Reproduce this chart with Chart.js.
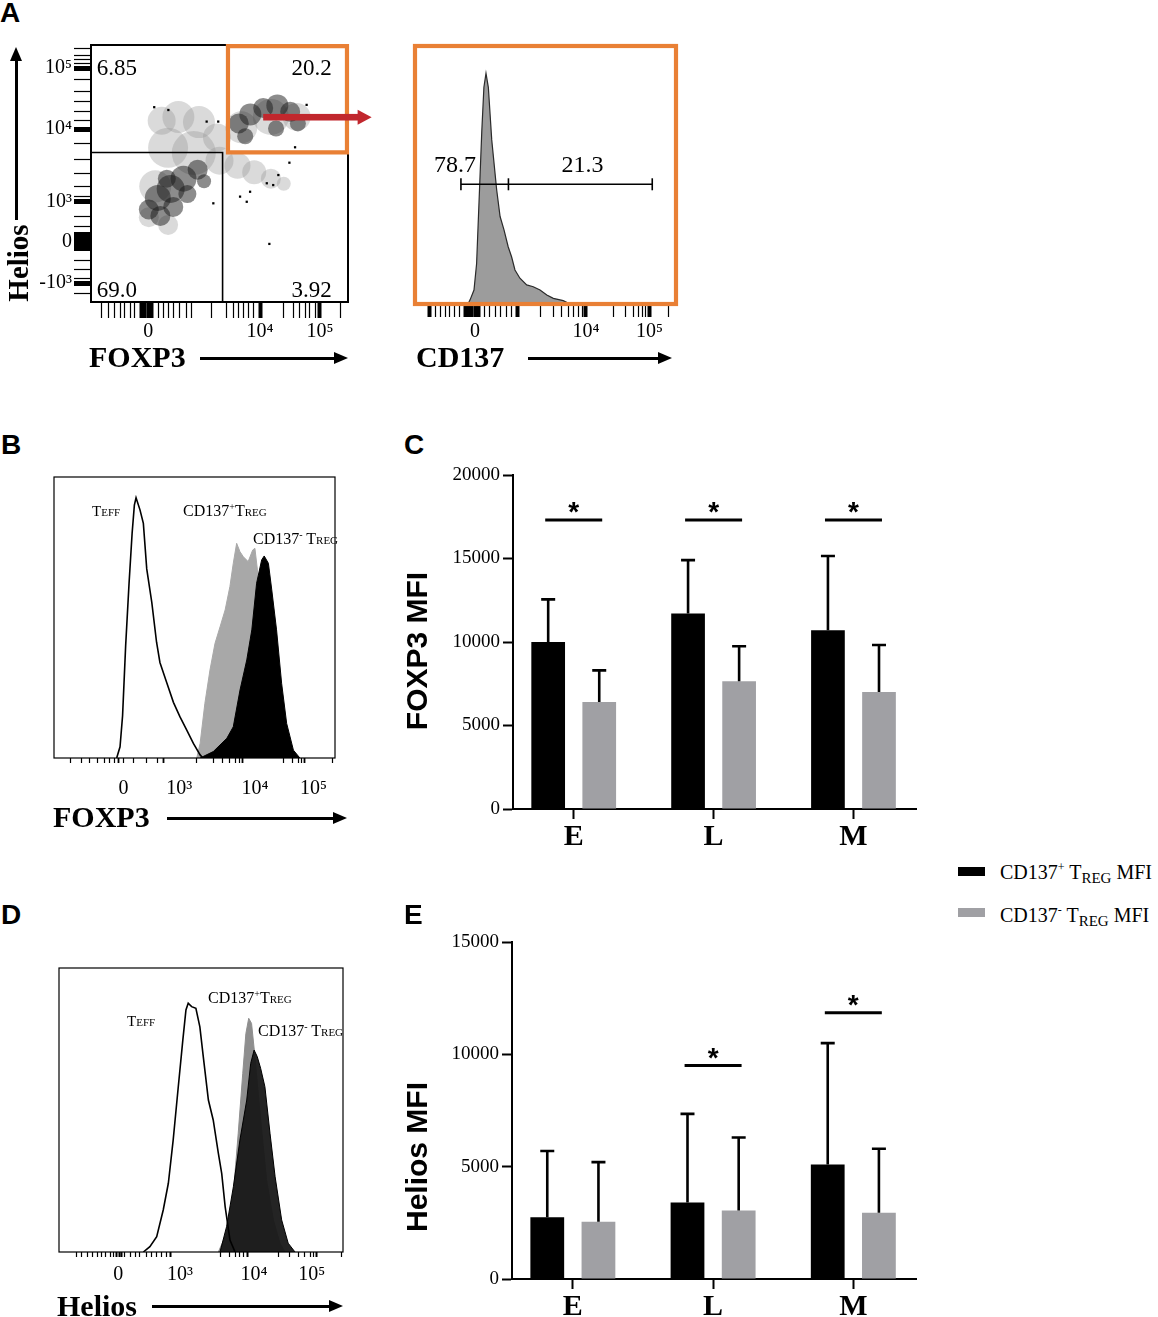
<!DOCTYPE html>
<html lang="en">
<head>
<meta charset="utf-8">
<title>CD137+ Treg: FOXP3 and Helios</title>
<script src="https://cdn.jsdelivr.net/npm/chart.js@4.4.1/dist/chart.umd.min.js"></script>
<style>
  html, body { margin: 0; padding: 0; background: #fff; }
  body { position: relative; width: 1158px; height: 1317px; overflow: hidden;
         font-family: "Liberation Serif", "Times New Roman", serif; color: #000; }
  canvas { position: absolute; }
  .abs { position: absolute; white-space: nowrap; line-height: 1; }
  .letter { font-family: "Liberation Sans", Arial, sans-serif; font-weight: bold; font-size: 28px; }
  .axt { font-weight: bold; font-size: 30px; }
  .rot { transform: translate(-50%, -50%) rotate(-90deg); }
  .mfi { font-family: "Liberation Sans", Arial, sans-serif; font-weight: bold; font-size: 30px; }
  .pop { font-size: 16px; }
  .sc { font-size: 11px; }
  .sup { font-size: 10px; position: relative; top: -6px; }
  .leg { font-size: 20px; }
  .lsup { font-size: 12px; position: relative; top: -8px; }
  .lsub { font-size: 15px; position: relative; top: 4px; }
  .sw { position: absolute; width: 27px; height: 9px; }
  .shaft { position: absolute; background: #000; }
  .hr { position: absolute; width: 0; height: 0; border-top: 6px solid transparent;
        border-bottom: 6px solid transparent; border-left: 14px solid #000; }
  .hu { position: absolute; width: 0; height: 0; border-left: 6px solid transparent;
        border-right: 6px solid transparent; border-bottom: 14px solid #000; }
</style>
</head>
<body>
<canvas id="scatterA" width="350" height="320" style="left:30px;top:30px"></canvas>
<canvas id="histCD137" width="290" height="320" style="left:400px;top:30px"></canvas>
<canvas id="histFoxp3" width="310" height="340" style="left:40px;top:465px"></canvas>
<canvas id="barFoxp3" width="530" height="400" style="left:400px;top:460px"></canvas>
<canvas id="histHelios" width="310" height="340" style="left:45px;top:955px"></canvas>
<canvas id="barHelios" width="530" height="392" style="left:400px;top:925px"></canvas>

<!-- panel letters -->
<div class="abs letter" style="left:0px;top:-1px">A</div>
<div class="abs letter" style="left:1px;top:431px">B</div>
<div class="abs letter" style="left:404px;top:431px">C</div>
<div class="abs letter" style="left:1px;top:901px">D</div>
<div class="abs letter" style="left:404px;top:901px">E</div>

<!-- flow axis titles -->
<div class="abs axt" style="left:89px;top:342px">FOXP3</div>
<div class="abs axt" style="left:416px;top:342px">CD137</div>
<div class="abs axt rot" style="left:18px;top:263px;font-size:29px">Helios</div>
<div class="abs axt" style="left:53px;top:802px">FOXP3</div>
<div class="abs axt" style="left:57px;top:1291px">Helios</div>

<!-- bar chart y titles -->
<div class="abs mfi rot" style="left:417px;top:651px">FOXP3 MFI</div>
<div class="abs mfi rot" style="left:417px;top:1157px">Helios MFI</div>

<!-- histogram population labels -->
<div class="abs" style="font-size:15px;left:92px;top:504px">T<span class="sc">EFF</span></div>
<div class="abs pop" style="left:183px;top:503px">CD137<span class="sup">+</span>T<span class="sc">REG</span></div>
<div class="abs pop" style="left:253px;top:531px">CD137<span class="sup">-</span> T<span class="sc">REG</span></div>
<div class="abs" style="font-size:15px;left:127px;top:1014px">T<span class="sc">EFF</span></div>
<div class="abs pop" style="left:208px;top:990px">CD137<span class="sup">+</span>T<span class="sc">REG</span></div>
<div class="abs pop" style="left:258px;top:1023px">CD137<span class="sup">-</span> T<span class="sc">REG</span></div>

<!-- legend for C / E -->
<div class="sw" style="left:958px;top:867px;background:#000"></div>
<div class="abs leg" style="left:1000px;top:862px">CD137<span class="lsup">+</span> T<span class="lsub">REG</span> MFI</div>
<div class="sw" style="left:958px;top:908px;background:#a0a0a4"></div>
<div class="abs leg" style="left:1000px;top:905px">CD137<span class="lsup">-</span> T<span class="lsub">REG</span> MFI</div>

<script>
Chart.defaults.font.family = "'Liberation Serif', 'Times New Roman', serif";
Chart.defaults.color = '#000';

// ---------- C / E : MFI, mean + SD ----------
const categories = ['E', 'L', 'M'];
const foxp3Pos = [10000, 11700, 10700];
const foxp3PosSd = [2550, 3200, 4450];
const foxp3Neg = [6400, 7650, 7000];
const foxp3NegSd = [1900, 2100, 2820];
const foxp3Sig = [17300, 17300, 17300];
const heliosPos = [2750, 3400, 5100];
const heliosPosSd = [2950, 3950, 5400];
const heliosNeg = [2550, 3050, 2950];
const heliosNegSd = [2650, 3250, 2850];
const heliosSig = [null, 9500, 11850];

// ---------- A : FOXP3 vs Helios (display channel, % of axis) ----------
const quadFoxp3 = 51.2;
const quadHelios = 58.2;
const quadFreq = ['6.85', '20.2', '69.0', '3.92'];   // UL, UR, LL, LR
const gateUR = [[53.3, 58.2], [53.3, 99.6], [99.6, 99.6], [99.6, 58.2], [53.3, 58.2]];
// density blobs [foxp3, helios, radius]
const sparseEvents = [[27.5, 70.5, 14], [34.0, 72.0, 16], [42.0, 70.0, 16], [49.0, 64.0, 14],
  [30.0, 60.0, 20], [40.0, 58.0, 22], [50.0, 55.0, 14], [57.0, 53.0, 13], [63.5, 50.5, 12],
  [70.0, 48.0, 10], [75.0, 46.0, 7], [58.5, 68.0, 16], [70.0, 72.0, 18], [80.0, 72.0, 14],
  [25.0, 45.0, 16], [22.5, 33.0, 10], [30.0, 30.0, 10]];
const denseEvents = [[22.5, 36.0, 10], [26.0, 40.5, 13], [27.0, 33.5, 10], [31.0, 44.0, 14],
  [32.0, 37.0, 10], [36.0, 48.0, 13], [37.5, 42.0, 9], [41.5, 51.5, 10], [44.0, 47.0, 7],
  [29.5, 48.0, 9], [57.5, 69.5, 10], [62.0, 73.0, 11], [67.0, 75.5, 10], [72.5, 76.5, 11],
  [77.5, 74.0, 10], [80.5, 69.5, 8], [60.0, 64.5, 8], [72.0, 67.5, 8]];
const rareEvents = [[24.6, 75.8], [30.1, 74.7], [45.0, 70.2], [49.5, 70.2], [83.9, 76.7],
  [79.4, 60.2], [77.2, 54.2], [72.9, 49.4], [68.4, 46.2], [70.9, 45.5], [61.9, 42.9],
  [58.0, 41.0], [60.6, 39.0], [47.6, 38.4], [69.4, 22.6]];
const foxp3TicksA = [4.2, 6.7, 9.3, 11.3, 13.2, 15.2, 17.1, 19.7, 21.0, 22.3, 23.6, 26.2, 28.1,
  30.1, 32.0, 34.6, 37.2, 39.2, 47.0, 52.8, 55.4, 57.3, 59.3, 61.2, 63.2, 65.8, 74.8, 78.7,
  81.3, 83.3, 85.2, 87.2, 89.1, 96.9];
const foxp3MajorA = [22.3, 65.8, 89.1];
const foxp3LabelsA = ['0', '10⁴', '10⁵'];
const heliosTicksA = [3.4, 7.3, 9.2, 12.5, 16.3, 20.9, 22.2, 23.5, 24.8, 26.1, 29.3, 33.2,
  39.0, 41.0, 44.9, 50.1, 55.3, 61.8, 67.3, 70.8, 74.0, 77.9, 81.8, 86.4, 91.0, 92.9, 94.2,
  96.1, 98.7];
const heliosMajorA = [91.0, 67.3, 39.0, 23.5, 7.3];
const heliosLabelsA = ['10⁵', '10⁴', '10³', '0', '-10³'];
const arrowA = [[67.0, 71.9], [109.2, 71.9]];

// ---------- A : CD137 histogram of the FOXP3+ Helios+ gate ----------
const cd137Hist = [[20.3, 0], [21.1, 1.6], [22.6, 5.4], [23.6, 15.6], [24.6, 41.4], [25.6, 67.2],
  [26.4, 84.0], [27.2, 89.4], [28.1, 84.0], [29.4, 63.6], [31.3, 44.2], [32.6, 33.9],
  [34.1, 28.7], [35.7, 22.2], [37.0, 18.3], [38.3, 13.2], [40.2, 10.0], [42.8, 7.4],
  [45.3, 6.7], [47.9, 5.4], [50.5, 3.5], [53.0, 2.2], [56.8, 1.3], [59.4, 0]];
const cd137GateBounds = [17.6, 35.8, 90.9];
const cd137GateLevel = 46.4;
const cd137GateFreq = ['78.7', '21.3'];
const cd137Ticks = [5.7, 7.7, 9.6, 11.5, 13.4, 15.3, 17.2, 19.2, 20.4, 21.7, 23.0, 24.3, 26.8,
  28.7, 30.7, 32.6, 35.1, 37.0, 39.2, 47.9, 53.0, 56.2, 58.7, 60.7, 62.6, 64.2, 65.5, 76.0,
  80.5, 83.6, 85.6, 87.2, 88.5, 89.8, 97.1];
const cd137Major = [23.0, 65.5, 89.8];
const cd137Labels = ['0', '10⁴', '10⁵'];

// ---------- B : FOXP3 histograms ----------
const teffFoxp3 = [[22.3, 0], [23.5, 4], [24.4, 15], [25.5, 40], [26.7, 62], [27.8, 80],
  [28.6, 90], [29.2, 92.6], [30.6, 88.3], [31.8, 83.5], [33.0, 67.3], [34.8, 55.4],
  [36.5, 41.2], [37.7, 34.0], [40.1, 26.9], [42.5, 19.8], [44.8, 14.7], [47.2, 10.0],
  [49.6, 5.2], [52.0, 1.1], [53.0, 0]];
const posFoxp3 = [[50.8, 0], [52.0, 5.2], [53.7, 19.5], [55.5, 31.3], [57.3, 40.8], [59.1, 46.7],
  [60.9, 52.7], [62.6, 61.0], [63.8, 69.3], [65.0, 76.4], [66.2, 73.4], [67.4, 71.6],
  [69.1, 69.9], [70.7, 74.0], [71.5, 74.6], [72.4, 66.9], [73.9, 45.6], [76.0, 25],
  [78.0, 10], [80.4, 0]];
const negFoxp3 = [[52.0, 0], [56.7, 2.3], [61.5, 7.0], [63.8, 11.1], [66.2, 24.2], [68.6, 34.9],
  [70.4, 45.6], [72.1, 62.2], [73.9, 70.5], [74.8, 71.9], [76.3, 69.3], [77.5, 59.8],
  [79.2, 45.6], [81.0, 26.6], [82.8, 12.3], [85.2, 2.8], [87.5, 0]];
const foxp3TicksB = [5.9, 9.9, 12.8, 15.4, 17.8, 19.7, 21.5, 23.1, 24.7, 28.2, 33.0, 36.8, 39.1,
  44.6, 50.8, 56.7, 60.0, 62.6, 64.5, 65.9, 67.2, 71.5, 81.6, 84.7, 86.9, 88.1, 89.0, 92.3, 99.2];
const foxp3MajorB = [24.7, 44.6, 71.5, 92.3];
const foxp3LabelsB = ['0', '10³', '10⁴', '10⁵'];

// ---------- D : Helios histograms ----------
const teffHelios = [[29.7, 0], [32.0, 1.9], [34.4, 5.4], [36.7, 14.8], [38.5, 24.2], [40.2, 39.4],
  [42.0, 58.2], [43.6, 74.6], [44.7, 85.2], [45.5, 87.6], [46.7, 86.4], [48.2, 85.8],
  [49.6, 79.3], [50.8, 68.8], [52.6, 53.5], [54.3, 46.5], [56.1, 34.8], [57.3, 27.6],
  [58.5, 16.0], [60.2, 4.2], [62.0, 0]];
const posHelios = [[56.1, 0], [59.0, 6.6], [61.4, 20.7], [63.1, 41.8], [64.7, 62.9], [65.8, 76.9],
  [66.8, 82.3], [67.8, 80.5], [69.0, 68.8], [70.8, 48.8], [73.1, 25.4], [75.5, 11.3],
  [77.8, 3.1], [79.6, 0]];
const negHelios = [[56.7, 0], [59.0, 8.9], [61.4, 23.0], [63.7, 39.4], [66.1, 53.5], [67.5, 66.4],
  [68.7, 71.1], [69.8, 68.8], [71.0, 64.7], [72.5, 58.2], [74.3, 41.8], [76.1, 26.5],
  [78.4, 11.3], [80.7, 3.1], [83.1, 0]];
const heliosTicksD = [6.0, 8.0, 10.0, 11.9, 13.5, 15.0, 16.5, 18.0, 19.1, 20.3, 20.9, 21.2, 22.1,
  23.2, 25.0, 26.8, 28.5, 30.9, 32.6, 34.4, 36.2, 37.9, 39.3, 42.6, 56.7, 60.2, 62.0, 63.7,
  65.1, 66.3, 68.7, 77.2, 81.3, 84.3, 86.6, 88.4, 89.0, 89.5, 90.5, 99.5];
const heliosMajorD = [20.9, 42.6, 68.7, 89.0];
const heliosLabelsD = ['0', '10³', '10⁴', '10⁵'];

const xy = pts => pts.map(p => ({ x: p[0], y: p[1] }));
const xyr = pts => pts.map(p => ({ x: p[0], y: p[1], r: p[2] }));

// box round the plot area
function framePlugin(color, width, under) {
  const draw = chart => {
    const { ctx, chartArea: a } = chart;
    ctx.save();
    ctx.strokeStyle = color;
    ctx.lineWidth = width;
    ctx.strokeRect(a.left, a.top, a.right - a.left, a.bottom - a.top);
    ctx.restore();
  };
  return under ? { id: 'frame', beforeDatasetsDraw: draw } : { id: 'frame', afterDatasetsDraw: draw };
}

// gate frequencies written at data coordinates
function textPlugin(items, font) {
  return {
    id: 'texts',
    afterDatasetsDraw(chart) {
      const { ctx, scales } = chart;
      ctx.save();
      ctx.font = font;
      ctx.fillStyle = '#000';
      ctx.textBaseline = 'alphabetic';
      items.forEach(t => {
        ctx.textAlign = t.align;
        ctx.fillText(t.text, scales.x.getPixelForValue(t.x), scales.y.getPixelForValue(t.y));
      });
      ctx.restore();
    }
  };
}

function arrowPlugin(from, to, color) {
  return {
    id: 'arrow',
    afterDraw(chart) {
      const { ctx, scales } = chart;
      const x1 = scales.x.getPixelForValue(from[0]);
      const x2 = scales.x.getPixelForValue(to[0]);
      const y = scales.y.getPixelForValue(from[1]);
      ctx.save();
      ctx.fillStyle = color;
      ctx.fillRect(x1, y - 3.3, x2 - x1 - 13, 6.6);
      ctx.beginPath();
      ctx.moveTo(x2, y);
      ctx.lineTo(x2 - 14, y - 7.5);
      ctx.lineTo(x2 - 14, y + 7.5);
      ctx.closePath();
      ctx.fill();
      ctx.restore();
    }
  };
}

// biexponential-looking axis: explicit tick list, labels only on decades
function flowAxis(o) {
  return {
    type: 'linear', min: 0, max: 100, position: o.position || 'bottom', offset: false,
    afterBuildTicks: s => { s.ticks = o.ticks.map(v => ({ value: v })); },
    afterFit: s => { if (s.isHorizontal()) s.height = o.size; else s.width = o.size; },
    ticks: {
      autoSkip: false, maxRotation: 0, padding: o.pad, color: '#000',
      font: { family: "'Liberation Serif', serif", size: 20 },
      callback: v => { const i = o.major.indexOf(v); return i < 0 ? '' : o.labels[i]; }
    },
    grid: {
      drawOnChartArea: false, tickLength: o.len,
      tickWidth: c => (c.tick && o.bold.includes(c.tick.value)) ? o.boldW : 1.2,
      tickColor: c => (c.tick && o.hidden && o.hidden.includes(c.tick.value)) ? 'rgba(0,0,0,0)' : '#000'
    },
    border: { display: false }
  };
}

const hiddenY = { display: false, min: 0, max: 100 };
const quiet = { legend: { display: false }, tooltip: { enabled: false } };

// ----- A, density plot -----
new Chart(document.getElementById('scatterA'), {
  type: 'scatter',
  data: {
    datasets: [
      { data: [{ x: 0, y: quadHelios }, { x: quadFoxp3, y: quadHelios }, { x: quadFoxp3, y: 0 }],
        showLine: true, borderColor: '#000', borderWidth: 1.6, pointRadius: 0 },
      { data: xy(gateUR), showLine: true, borderColor: '#e98035', borderWidth: 4.2, pointRadius: 0,
        borderCapStyle: 'square', borderJoinStyle: 'miter', clip: false },
      { data: xy(rareEvents), pointStyle: 'rect', pointRadius: 1.6, backgroundColor: '#000', borderWidth: 0 },
      { type: 'bubble', data: xyr(denseEvents), backgroundColor: 'rgba(25,25,25,0.5)', borderWidth: 0 },
      { type: 'bubble', data: xyr(sparseEvents), backgroundColor: 'rgba(150,150,150,0.35)', borderWidth: 0 }
    ]
  },
  options: {
    responsive: false, animation: false, events: [],
    layout: { autoPadding: false, padding: { left: 0, top: 15, right: 32, bottom: 0 } },
    plugins: quiet,
    scales: {
      x: flowAxis({ ticks: foxp3TicksA, major: foxp3MajorA, labels: foxp3LabelsA, len: 16, pad: 2,
        size: 48, bold: [19.7, 21.0, 22.3, 23.6, 65.8, 89.1], boldW: 4 }),
      y: flowAxis({ position: 'left', ticks: heliosTicksA, major: heliosMajorA, labels: heliosLabelsA,
        len: 17, pad: 2, size: 61, bold: [20.9, 22.2, 23.5, 24.8, 26.1, 91.0, 67.3, 39.0, 7.3], boldW: 5 })
    }
  },
  plugins: [
    framePlugin('#000', 2, true),
    textPlugin([
      { text: quadFreq[0], x: 2.2, y: 88.3, align: 'left' },
      { text: quadFreq[1], x: 93.7, y: 88.3, align: 'right' },
      { text: quadFreq[2], x: 2.2, y: 2.1, align: 'left' },
      { text: quadFreq[3], x: 93.7, y: 2.1, align: 'right' }
    ], "23px 'Liberation Serif'"),
    arrowPlugin(arrowA[0], arrowA[1], '#c1272d')
  ]
});

// ----- A, CD137 histogram -----
new Chart(document.getElementById('histCD137'), {
  type: 'scatter',
  data: {
    datasets: [
      { data: cd137GateBounds.map(x => ({ x, y: cd137GateLevel })), showLine: true, borderColor: '#000',
        borderWidth: 1.6, pointStyle: 'line', pointRadius: 6, pointRotation: 90,
        pointBorderColor: '#000', pointBorderWidth: 1.6 },
      { data: xy(cd137Hist), showLine: true, fill: 'origin', backgroundColor: '#9c9c9c',
        borderColor: '#2a2a2a', borderWidth: 1.2, pointRadius: 0 }
    ]
  },
  options: {
    responsive: false, animation: false, events: [],
    layout: { autoPadding: false, padding: { left: 15, top: 16, right: 14, bottom: 0 } },
    plugins: quiet,
    scales: {
      x: flowAxis({ ticks: cd137Ticks, major: cd137Major, labels: cd137Labels, len: 13, pad: 3, size: 46,
        bold: [5.7, 19.2, 20.4, 21.7, 23.0, 24.3, 39.2, 65.5, 89.8], boldW: 4 }),
      y: hiddenY
    }
  },
  plugins: [
    framePlugin('#e98035', 4.2, false),
    textPlugin([
      { text: cd137GateFreq[0], x: 15.3, y: 51.3, align: 'center' },
      { text: cd137GateFreq[1], x: 64.2, y: 51.3, align: 'center' }
    ], "24px 'Liberation Serif'")
  ]
});

// ----- B / D, overlaid histograms -----
function overlay(id, teff, pos, neg, posColor, negColor, axis, pad) {
  return new Chart(document.getElementById(id), {
    type: 'scatter',
    data: {
      datasets: [
        { label: 'TEFF', data: xy(teff), showLine: true, fill: false, borderColor: '#000',
          borderWidth: 1.6, pointRadius: 0 },
        { label: 'CD137- TREG', data: xy(neg), showLine: true, fill: 'origin', backgroundColor: negColor,
          borderColor: '#000', borderWidth: 1, pointRadius: 0 },
        { label: 'CD137+ TREG', data: xy(pos), showLine: true, fill: 'origin', backgroundColor: posColor,
          borderColor: posColor, borderWidth: 1, pointRadius: 0 }
      ]
    },
    options: {
      responsive: false, animation: false, events: [],
      layout: { autoPadding: false, padding: pad },
      plugins: quiet,
      scales: { x: axis, y: hiddenY }
    },
    plugins: [framePlugin('#000', 1.2, false)]
  });
}

overlay('histFoxp3', teffFoxp3, posFoxp3, negFoxp3, '#a8a8a8', '#000',
  flowAxis({ ticks: foxp3TicksB, major: foxp3MajorB, labels: foxp3LabelsB, len: 5, pad: 14, size: 47,
    bold: [23.1, 39.1, 67.2, 89.0], boldW: 1.8, hidden: [44.6, 71.5, 92.3] }),
  { left: 14, top: 12, right: 15, bottom: 0 });

overlay('histHelios', teffHelios, posHelios, negHelios, '#8e8e8e', 'rgba(24,24,24,0.95)',
  flowAxis({ ticks: heliosTicksD, major: heliosMajorD, labels: heliosLabelsD, len: 5, pad: 6, size: 43,
    bold: [20.3, 21.2, 22.1, 39.3, 66.3, 90.5], boldW: 2, hidden: [20.9, 42.6, 68.7, 89.0] }),
  { left: 14, top: 13, right: 12, bottom: 0 });

// ----- C / E, bar charts -----
const errorBars = {
  id: 'errorBars',
  afterDatasetsDraw(chart) {
    const { ctx } = chart;
    const y = chart.scales.y;
    ctx.save();
    ctx.strokeStyle = '#000';
    ctx.lineWidth = 2.6;
    chart.data.datasets.forEach((ds, di) => {
      chart.getDatasetMeta(di).data.forEach((el, i) => {
        const top = y.getPixelForValue(ds.data[i].y + ds.sd[i]);
        ctx.beginPath();
        ctx.moveTo(el.x, el.y);
        ctx.lineTo(el.x, top);
        ctx.moveTo(el.x - 7, top);
        ctx.lineTo(el.x + 7, top);
        ctx.stroke();
      });
    });
    ctx.restore();
  }
};

function sigPlugin(levels) {
  return {
    id: 'sig',
    afterDatasetsDraw(chart) {
      const { ctx } = chart;
      const y = chart.scales.y;
      const a = chart.getDatasetMeta(0).data, b = chart.getDatasetMeta(1).data;
      ctx.save();
      ctx.strokeStyle = '#000';
      ctx.fillStyle = '#000';
      ctx.lineWidth = 3;
      ctx.font = "bold 28px 'Liberation Sans', Arial, sans-serif";
      ctx.textAlign = 'center';
      ctx.textBaseline = 'alphabetic';
      levels.forEach((v, i) => {
        if (v == null) return;
        const py = y.getPixelForValue(v);
        const mid = (a[i].x + b[i].x) / 2;
        ctx.beginPath();
        ctx.moveTo(mid - 28.5, py);
        ctx.lineTo(mid + 28.5, py);
        ctx.stroke();
        ctx.fillText('*', mid, py + 1);
      });
      ctx.restore();
    }
  };
}

function mfiChart(id, pos, posSd, neg, negSd, sig, yMax, yWidth, padTop, xHeight) {
  const bar = (label, vals, sd, color) => ({
    label, data: vals.map((v, i) => ({ x: i, y: v })), sd, backgroundColor: color,
    borderWidth: 0, categoryPercentage: 0.73, barPercentage: 0.66
  });
  return new Chart(document.getElementById(id), {
    type: 'bar',
    data: {
      datasets: [
        bar('CD137+ TREG MFI', pos, posSd, '#000'),
        bar('CD137- TREG MFI', neg, negSd, '#a0a0a4')
      ]
    },
    options: {
      responsive: false, animation: false, events: [],
      layout: { autoPadding: false, padding: { left: 0, top: padTop, right: 14, bottom: 0 } },
      plugins: quiet,
      scales: {
        x: {
          type: 'linear', min: -0.434, max: 2.447, offset: false, z: 1,
          afterBuildTicks: s => { s.ticks = categories.map((c, i) => ({ value: i })); },
          afterFit: s => { s.height = xHeight; },
          ticks: { autoSkip: false, maxRotation: 0, padding: 0, color: '#000',
            font: { family: "'Liberation Serif', serif", weight: 'bold', size: 30 },
            callback: v => categories[v] },
          grid: { drawOnChartArea: false, offset: false, tickLength: 10, tickWidth: 2, tickColor: '#000' },
          border: { display: true, width: 2, color: '#000' }
        },
        y: {
          min: 0, max: yMax,
          afterFit: s => { s.width = yWidth; },
          ticks: { stepSize: 5000, padding: 3, color: '#000', callback: v => String(v),
            font: { family: "'Liberation Serif', serif", size: 19 } },
          grid: { drawOnChartArea: false, tickLength: 10, tickWidth: 2, tickColor: '#000' },
          border: { display: true, width: 2, color: '#000' }
        }
      }
    },
    plugins: [errorBars, sigPlugin(sig)]
  });
}

mfiChart('barFoxp3', foxp3Pos, foxp3PosSd, foxp3Neg, foxp3NegSd, foxp3Sig, 20000, 113, 15, 51);
mfiChart('barHelios', heliosPos, heliosPosSd, heliosNeg, heliosNegSd, heliosSig, 15000, 112, 17, 38);

// ----- plain arrows beside the flow axis titles -----
function hArrow(x1, x2, y) {
  const s = document.createElement('div');
  s.className = 'shaft';
  Object.assign(s.style, { left: x1 + 'px', top: (y - 1.5) + 'px', width: (x2 - x1 - 12) + 'px', height: '3px' });
  const h = document.createElement('div');
  h.className = 'hr';
  Object.assign(h.style, { left: (x2 - 14) + 'px', top: (y - 6) + 'px' });
  document.body.append(s, h);
}
function vArrow(x, yTop, yBottom) {
  const s = document.createElement('div');
  s.className = 'shaft';
  Object.assign(s.style, { left: (x - 1.5) + 'px', top: (yTop + 12) + 'px', width: '3px', height: (yBottom - yTop - 12) + 'px' });
  const h = document.createElement('div');
  h.className = 'hu';
  Object.assign(h.style, { left: (x - 6) + 'px', top: yTop + 'px' });
  document.body.append(s, h);
}
hArrow(200, 348, 358);
hArrow(528, 672, 358);
vArrow(16, 47, 220);
hArrow(167, 347, 818);
hArrow(152, 343, 1306);
</script>
</body>
</html>
